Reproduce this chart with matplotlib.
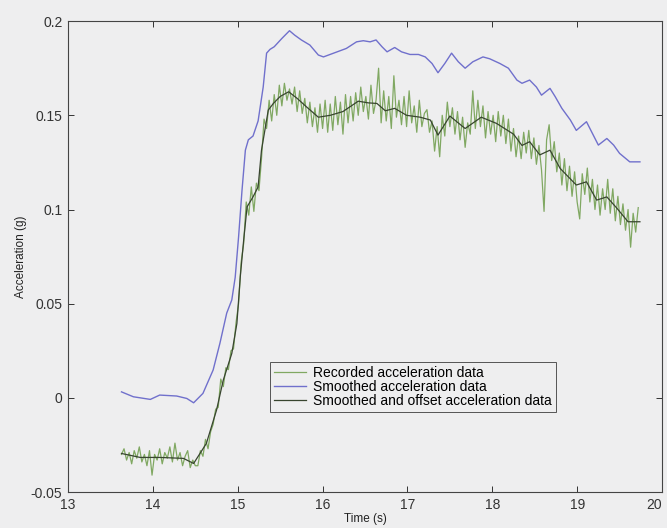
import matplotlib
matplotlib.use('Agg')
import matplotlib.pyplot as plt
import numpy as np
from matplotlib.ticker import FuncFormatter

# smoothed acceleration (blue)
smooth_t = [13.63, 13.77, 13.97, 14.08, 14.28, 14.40, 14.48, 14.59, 14.71, 14.79,
            14.87, 14.93, 14.97, 15.01, 15.05, 15.09, 15.125, 15.18, 15.24, 15.30,
            15.34, 15.38, 15.43, 15.52, 15.61, 15.67, 15.75, 15.85, 15.95, 16.01,
            16.13, 16.28, 16.40, 16.48, 16.56, 16.63, 16.70, 16.76, 16.85, 16.93,
            17.03, 17.13, 17.21, 17.29, 17.36, 17.44, 17.52, 17.60, 17.68, 17.77,
            17.89, 17.97, 18.09, 18.19, 18.29, 18.35, 18.44, 18.52, 18.58, 18.68,
            18.74, 18.82, 18.92, 18.99, 19.11, 19.19, 19.25, 19.35, 19.43, 19.50,
            19.62, 19.74]
smooth_y = [0.0032, 0.0006, -0.0008, 0.0015, 0.0010, -0.0003, -0.0026, 0.0024, 0.0148, 0.029,
            0.045, 0.052, 0.064, 0.0855, 0.110, 0.1315, 0.137, 0.139, 0.147, 0.165,
            0.183, 0.185, 0.1864, 0.1908, 0.1949, 0.1926, 0.190, 0.1873, 0.182, 0.181,
            0.183, 0.1855, 0.189, 0.1896, 0.189, 0.190, 0.1864, 0.1837, 0.186, 0.1837,
            0.1823, 0.1823, 0.181, 0.1775, 0.1726, 0.1775, 0.183, 0.1784, 0.175, 0.1784,
            0.181, 0.180, 0.1775, 0.175, 0.1687, 0.167, 0.1687, 0.165, 0.1607, 0.1643,
            0.160, 0.1537, 0.1475, 0.142, 0.1466, 0.1395, 0.1342, 0.1377, 0.1342, 0.1298,
            0.1253, 0.1253]

# smoothed and offset acceleration (dark)
offset_t = [13.63, 13.85, 14.08, 14.36, 14.48, 14.63, 14.75, 14.83, 14.93, 14.99,
            15.03, 15.07, 15.11, 15.18, 15.24, 15.28, 15.36, 15.42, 15.50, 15.60,
            15.70, 15.81, 15.95, 16.09, 16.24, 16.42, 16.54, 16.64, 16.74, 16.85,
            16.99, 17.15, 17.27, 17.36, 17.50, 17.68, 17.87, 18.05, 18.25, 18.35,
            18.44, 18.56, 18.68, 18.80, 18.99, 19.11, 19.23, 19.35, 19.47, 19.60,
            19.74]
offset_y = [-0.0295, -0.0316, -0.0316, -0.0321, -0.0348, -0.0242, -0.0065, 0.0095, 0.0236, 0.0395,
            0.0643, 0.0838, 0.1014, 0.1067, 0.112, 0.1315, 0.1528, 0.1563, 0.160, 0.1625,
            0.159, 0.1545, 0.149, 0.150, 0.152, 0.1575, 0.1566, 0.1563, 0.1524, 0.1537,
            0.150, 0.149, 0.1475, 0.1395, 0.1496, 0.143, 0.149, 0.1457, 0.140, 0.134,
            0.136, 0.129, 0.1315, 0.1218, 0.113, 0.1147, 0.105, 0.1067, 0.1006, 0.0935,
            0.0935]

# recorded acceleration (green), sampled every 0.03 s from 13.63 s
rec_start = 13.63
rec_step = 0.03
rec_y = [-0.030, -0.027, -0.033, -0.029, -0.035, -0.028, -0.032, -0.026, -0.034, -0.030,
         -0.036, -0.028, -0.041, -0.030, -0.033, -0.027, -0.035, -0.029, -0.032, -0.026,
         -0.034, -0.024, -0.033, -0.029, -0.036, -0.031, -0.028, -0.037, -0.033, -0.036,
         -0.036, -0.028, -0.031, -0.022, -0.027, -0.018, -0.014, -0.006, -0.005, 0.010,
         0.006, 0.016, 0.015, 0.025, 0.026, 0.040, 0.050, 0.072, 0.082, 0.104,
         0.097, 0.112, 0.099, 0.114, 0.110, 0.127, 0.148, 0.143, 0.158, 0.147,
         0.161, 0.150, 0.166, 0.155, 0.167, 0.158, 0.164, 0.156, 0.165, 0.152,
         0.163, 0.151, 0.159, 0.146, 0.157, 0.144, 0.154, 0.141, 0.156, 0.143,
         0.158, 0.141, 0.156, 0.142, 0.160, 0.145, 0.157, 0.140, 0.161, 0.146,
         0.160, 0.147, 0.162, 0.150, 0.165, 0.152, 0.160, 0.148, 0.166, 0.151,
         0.158, 0.175, 0.146, 0.163, 0.147, 0.160, 0.143, 0.171, 0.149, 0.158,
         0.145, 0.160, 0.144, 0.163, 0.146, 0.155, 0.141, 0.158, 0.144, 0.151,
         0.153, 0.141, 0.147, 0.131, 0.144, 0.128, 0.150, 0.139, 0.157, 0.144,
         0.154, 0.140, 0.152, 0.137, 0.149, 0.133, 0.146, 0.140, 0.163, 0.143,
         0.158, 0.144, 0.155, 0.138, 0.152, 0.140, 0.150, 0.136, 0.152, 0.139,
         0.150, 0.135, 0.148, 0.131, 0.143, 0.128, 0.139, 0.127, 0.141, 0.130,
         0.142, 0.127, 0.138, 0.124, 0.134, 0.121, 0.099, 0.137, 0.145, 0.126,
         0.136, 0.120, 0.130, 0.113, 0.127, 0.110, 0.123, 0.107, 0.120, 0.104,
         0.095, 0.119, 0.108, 0.122, 0.104, 0.116, 0.100, 0.113, 0.097, 0.111,
         0.100, 0.116, 0.098, 0.111, 0.094, 0.107, 0.092, 0.103, 0.089, 0.100,
         0.080, 0.098, 0.088, 0.101]
rec_t = rec_start + rec_step * np.arange(len(rec_y))

x_ticks = [13, 14, 15, 16, 17, 18, 19, 20]
y_ticks = [-0.05, 0, 0.05, 0.1, 0.15, 0.2]

plt.rcParams['font.family'] = ['Liberation Sans', 'DejaVu Sans']
bg = '#eeeeef'

fig = plt.figure(figsize=(6.67, 5.28), dpi=100, facecolor=bg)
ax = fig.add_axes([0.102, 0.068, 0.8905, 0.892], facecolor=bg)

ax.plot(rec_t, rec_y, color='#80a862', lw=0.9, label='Recorded acceleration data')
ax.plot(smooth_t, smooth_y, color='#7070cc', lw=1.0, label='Smoothed acceleration data')
ax.plot(offset_t, offset_y, color='#38452f', lw=0.9, label='Smoothed and offset acceleration data')

ax.set_xlim(13, 20)
ax.set_ylim(-0.05, 0.2)
ax.set_xticks(x_ticks)
ax.set_yticks(y_ticks)
ax.yaxis.set_major_formatter(FuncFormatter(lambda v, p: '%g' % v))
ax.tick_params(direction='in', top=True, right=True, length=4, width=0.7,
               labelsize=10, colors='#333333', pad=4)
for s in ax.spines.values():
    s.set_linewidth(0.8)
    s.set_color('#444444')
# last x label sits on the figure edge, nudge it inward
ax.get_xticklabels()[-1].set_horizontalalignment('right')

ax.set_xlabel('Time (s)', fontsize=8.5, color='#222222', labelpad=1)
ax.set_ylabel('Acceleration (g)', fontsize=8.5, color='#222222', labelpad=3)

leg = ax.legend(loc='lower left', bbox_to_anchor=(0.34, 0.17), fontsize=10,
                fancybox=False, framealpha=1, facecolor=bg, edgecolor='#555555',
                handlelength=2.3, handletextpad=0.5, borderpad=0.3, labelspacing=0.0,
                borderaxespad=0)
leg.get_frame().set_linewidth(0.7)

fig.savefig('out.png', dpi=100, facecolor=bg)
